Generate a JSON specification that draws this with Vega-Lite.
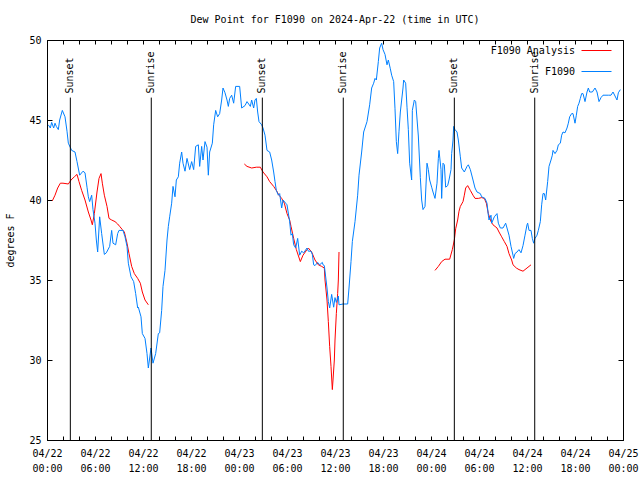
{
  "$schema": "https://vega.github.io/schema/vega-lite/v6.json",
  "width": 576,
  "height": 400,
  "autosize": "none",
  "padding": {"left": 47, "top": 40, "right": 17, "bottom": 40},
  "title": {"text": "Dew Point for F1090 on 2024-Apr-22 (time in UTC)", "offset": 10},
  "config": {
    "font": "DejaVu Sans Mono",
    "view": {"stroke": "black", "strokeWidth": 1},
    "title": {"font": "DejaVu Sans Mono", "fontSize": 10, "fontWeight": "normal", "color": "black"},
    "axis": {"labelFont": "DejaVu Sans Mono", "labelFontSize": 10, "labelColor": "black", "titleFont": "DejaVu Sans Mono", "titleFontSize": 10, "titleFontWeight": "normal", "titleColor": "black", "domainColor": "black", "tickColor": "black", "grid": false},
    "legend": {"labelFont": "DejaVu Sans Mono", "labelFontSize": 10, "labelColor": "black"}
  },
  "datasets": {
    "events": [
      {"t": "2024-04-22T02:55:00Z", "event": "Sunset"},
      {"t": "2024-04-22T13:02:00Z", "event": "Sunrise"},
      {"t": "2024-04-23T02:55:00Z", "event": "Sunset"},
      {"t": "2024-04-23T13:02:00Z", "event": "Sunrise"},
      {"t": "2024-04-24T02:55:00Z", "event": "Sunset"},
      {"t": "2024-04-24T12:58:00Z", "event": "Sunrise"}
    ],
    "obs": [
      {"t": "2024-04-22T00:40:00Z", "v": 39.95, "series": "F1090 Analysis", "seg": "a"},
      {"t": "2024-04-22T01:00:00Z", "v": 40.3, "series": "F1090 Analysis", "seg": "a"},
      {"t": "2024-04-22T01:20:00Z", "v": 40.75, "series": "F1090 Analysis", "seg": "a"},
      {"t": "2024-04-22T01:40:00Z", "v": 41.05, "series": "F1090 Analysis", "seg": "a"},
      {"t": "2024-04-22T02:00:00Z", "v": 41.05, "series": "F1090 Analysis", "seg": "a"},
      {"t": "2024-04-22T02:40:00Z", "v": 41.0, "series": "F1090 Analysis", "seg": "a"},
      {"t": "2024-04-22T03:00:00Z", "v": 41.25, "series": "F1090 Analysis", "seg": "a"},
      {"t": "2024-04-22T03:25:00Z", "v": 41.45, "series": "F1090 Analysis", "seg": "a"},
      {"t": "2024-04-22T03:45:00Z", "v": 41.6, "series": "F1090 Analysis", "seg": "a"},
      {"t": "2024-04-22T04:00:00Z", "v": 41.15, "series": "F1090 Analysis", "seg": "a"},
      {"t": "2024-04-22T04:20:00Z", "v": 40.6, "series": "F1090 Analysis", "seg": "a"},
      {"t": "2024-04-22T04:45:00Z", "v": 40.0, "series": "F1090 Analysis", "seg": "a"},
      {"t": "2024-04-22T05:10:00Z", "v": 39.25, "series": "F1090 Analysis", "seg": "a"},
      {"t": "2024-04-22T05:30:00Z", "v": 38.75, "series": "F1090 Analysis", "seg": "a"},
      {"t": "2024-04-22T05:40:00Z", "v": 38.45, "series": "F1090 Analysis", "seg": "a"},
      {"t": "2024-04-22T05:55:00Z", "v": 39.15, "series": "F1090 Analysis", "seg": "a"},
      {"t": "2024-04-22T06:15:00Z", "v": 40.5, "series": "F1090 Analysis", "seg": "a"},
      {"t": "2024-04-22T06:30:00Z", "v": 41.35, "series": "F1090 Analysis", "seg": "a"},
      {"t": "2024-04-22T06:45:00Z", "v": 41.65, "series": "F1090 Analysis", "seg": "a"},
      {"t": "2024-04-22T06:55:00Z", "v": 41.05, "series": "F1090 Analysis", "seg": "a"},
      {"t": "2024-04-22T07:10:00Z", "v": 40.3, "series": "F1090 Analysis", "seg": "a"},
      {"t": "2024-04-22T07:30:00Z", "v": 39.6, "series": "F1090 Analysis", "seg": "a"},
      {"t": "2024-04-22T07:45:00Z", "v": 38.85, "series": "F1090 Analysis", "seg": "a"},
      {"t": "2024-04-22T08:05:00Z", "v": 38.75, "series": "F1090 Analysis", "seg": "a"},
      {"t": "2024-04-22T08:30:00Z", "v": 38.65, "series": "F1090 Analysis", "seg": "a"},
      {"t": "2024-04-22T08:50:00Z", "v": 38.5, "series": "F1090 Analysis", "seg": "a"},
      {"t": "2024-04-22T09:05:00Z", "v": 38.35, "series": "F1090 Analysis", "seg": "a"},
      {"t": "2024-04-22T09:25:00Z", "v": 38.15, "series": "F1090 Analysis", "seg": "a"},
      {"t": "2024-04-22T09:40:00Z", "v": 38.0, "series": "F1090 Analysis", "seg": "a"},
      {"t": "2024-04-22T10:00:00Z", "v": 37.3, "series": "F1090 Analysis", "seg": "a"},
      {"t": "2024-04-22T10:15:00Z", "v": 36.65, "series": "F1090 Analysis", "seg": "a"},
      {"t": "2024-04-22T10:35:00Z", "v": 35.85, "series": "F1090 Analysis", "seg": "a"},
      {"t": "2024-04-22T10:55:00Z", "v": 35.4, "series": "F1090 Analysis", "seg": "a"},
      {"t": "2024-04-22T11:20:00Z", "v": 35.1, "series": "F1090 Analysis", "seg": "a"},
      {"t": "2024-04-22T11:40:00Z", "v": 34.8, "series": "F1090 Analysis", "seg": "a"},
      {"t": "2024-04-22T11:55:00Z", "v": 34.25, "series": "F1090 Analysis", "seg": "a"},
      {"t": "2024-04-22T12:15:00Z", "v": 33.75, "series": "F1090 Analysis", "seg": "a"},
      {"t": "2024-04-22T12:40:00Z", "v": 33.45, "series": "F1090 Analysis", "seg": "a"},
      {"t": "2024-04-23T00:40:00Z", "v": 42.25, "series": "F1090 Analysis", "seg": "b"},
      {"t": "2024-04-23T01:00:00Z", "v": 42.1, "series": "F1090 Analysis", "seg": "b"},
      {"t": "2024-04-23T01:35:00Z", "v": 42.0, "series": "F1090 Analysis", "seg": "b"},
      {"t": "2024-04-23T02:10:00Z", "v": 42.05, "series": "F1090 Analysis", "seg": "b"},
      {"t": "2024-04-23T02:40:00Z", "v": 42.05, "series": "F1090 Analysis", "seg": "b"},
      {"t": "2024-04-23T03:00:00Z", "v": 41.75, "series": "F1090 Analysis", "seg": "b"},
      {"t": "2024-04-23T03:30:00Z", "v": 41.45, "series": "F1090 Analysis", "seg": "b"},
      {"t": "2024-04-23T03:50:00Z", "v": 41.15, "series": "F1090 Analysis", "seg": "b"},
      {"t": "2024-04-23T04:20:00Z", "v": 40.85, "series": "F1090 Analysis", "seg": "b"},
      {"t": "2024-04-23T04:40:00Z", "v": 40.6, "series": "F1090 Analysis", "seg": "b"},
      {"t": "2024-04-23T05:00:00Z", "v": 40.3, "series": "F1090 Analysis", "seg": "b"},
      {"t": "2024-04-23T05:20:00Z", "v": 40.1, "series": "F1090 Analysis", "seg": "b"},
      {"t": "2024-04-23T05:40:00Z", "v": 39.8, "series": "F1090 Analysis", "seg": "b"},
      {"t": "2024-04-23T06:00:00Z", "v": 39.15, "series": "F1090 Analysis", "seg": "b"},
      {"t": "2024-04-23T06:20:00Z", "v": 38.75, "series": "F1090 Analysis", "seg": "b"},
      {"t": "2024-04-23T06:30:00Z", "v": 38.35, "series": "F1090 Analysis", "seg": "b"},
      {"t": "2024-04-23T06:50:00Z", "v": 37.6, "series": "F1090 Analysis", "seg": "b"},
      {"t": "2024-04-23T07:10:00Z", "v": 36.9, "series": "F1090 Analysis", "seg": "b"},
      {"t": "2024-04-23T07:40:00Z", "v": 36.15, "series": "F1090 Analysis", "seg": "b"},
      {"t": "2024-04-23T08:00:00Z", "v": 36.55, "series": "F1090 Analysis", "seg": "b"},
      {"t": "2024-04-23T08:30:00Z", "v": 36.9, "series": "F1090 Analysis", "seg": "b"},
      {"t": "2024-04-23T08:40:00Z", "v": 37.0, "series": "F1090 Analysis", "seg": "b"},
      {"t": "2024-04-23T09:05:00Z", "v": 36.75, "series": "F1090 Analysis", "seg": "b"},
      {"t": "2024-04-23T09:30:00Z", "v": 36.25, "series": "F1090 Analysis", "seg": "b"},
      {"t": "2024-04-23T09:55:00Z", "v": 35.95, "series": "F1090 Analysis", "seg": "b"},
      {"t": "2024-04-23T10:20:00Z", "v": 35.85, "series": "F1090 Analysis", "seg": "b"},
      {"t": "2024-04-23T10:40:00Z", "v": 35.75, "series": "F1090 Analysis", "seg": "b"},
      {"t": "2024-04-23T10:45:00Z", "v": 35.0, "series": "F1090 Analysis", "seg": "b"},
      {"t": "2024-04-23T11:00:00Z", "v": 33.75, "series": "F1090 Analysis", "seg": "b"},
      {"t": "2024-04-23T11:10:00Z", "v": 32.4, "series": "F1090 Analysis", "seg": "b"},
      {"t": "2024-04-23T11:20:00Z", "v": 30.85, "series": "F1090 Analysis", "seg": "b"},
      {"t": "2024-04-23T11:30:00Z", "v": 29.6, "series": "F1090 Analysis", "seg": "b"},
      {"t": "2024-04-23T11:40:00Z", "v": 28.15, "series": "F1090 Analysis", "seg": "b"},
      {"t": "2024-04-23T11:45:00Z", "v": 28.75, "series": "F1090 Analysis", "seg": "b"},
      {"t": "2024-04-23T11:55:00Z", "v": 30.0, "series": "F1090 Analysis", "seg": "b"},
      {"t": "2024-04-23T12:00:00Z", "v": 31.25, "series": "F1090 Analysis", "seg": "b"},
      {"t": "2024-04-23T12:10:00Z", "v": 32.9, "series": "F1090 Analysis", "seg": "b"},
      {"t": "2024-04-23T12:20:00Z", "v": 34.15, "series": "F1090 Analysis", "seg": "b"},
      {"t": "2024-04-23T12:25:00Z", "v": 35.0, "series": "F1090 Analysis", "seg": "b"},
      {"t": "2024-04-23T12:30:00Z", "v": 36.75, "series": "F1090 Analysis", "seg": "b"},
      {"t": "2024-04-24T00:30:00Z", "v": 35.6, "series": "F1090 Analysis", "seg": "c"},
      {"t": "2024-04-24T00:55:00Z", "v": 35.85, "series": "F1090 Analysis", "seg": "c"},
      {"t": "2024-04-24T01:20:00Z", "v": 36.15, "series": "F1090 Analysis", "seg": "c"},
      {"t": "2024-04-24T01:45:00Z", "v": 36.3, "series": "F1090 Analysis", "seg": "c"},
      {"t": "2024-04-24T02:20:00Z", "v": 36.3, "series": "F1090 Analysis", "seg": "c"},
      {"t": "2024-04-24T02:40:00Z", "v": 36.9, "series": "F1090 Analysis", "seg": "c"},
      {"t": "2024-04-24T02:55:00Z", "v": 37.5, "series": "F1090 Analysis", "seg": "c"},
      {"t": "2024-04-24T03:05:00Z", "v": 38.2, "series": "F1090 Analysis", "seg": "c"},
      {"t": "2024-04-24T03:20:00Z", "v": 38.75, "series": "F1090 Analysis", "seg": "c"},
      {"t": "2024-04-24T03:30:00Z", "v": 39.3, "series": "F1090 Analysis", "seg": "c"},
      {"t": "2024-04-24T03:40:00Z", "v": 39.6, "series": "F1090 Analysis", "seg": "c"},
      {"t": "2024-04-24T04:00:00Z", "v": 39.9, "series": "F1090 Analysis", "seg": "c"},
      {"t": "2024-04-24T04:10:00Z", "v": 40.3, "series": "F1090 Analysis", "seg": "c"},
      {"t": "2024-04-24T04:20:00Z", "v": 40.75, "series": "F1090 Analysis", "seg": "c"},
      {"t": "2024-04-24T04:35:00Z", "v": 40.9, "series": "F1090 Analysis", "seg": "c"},
      {"t": "2024-04-24T04:55:00Z", "v": 40.6, "series": "F1090 Analysis", "seg": "c"},
      {"t": "2024-04-24T05:15:00Z", "v": 40.3, "series": "F1090 Analysis", "seg": "c"},
      {"t": "2024-04-24T05:30:00Z", "v": 40.1, "series": "F1090 Analysis", "seg": "c"},
      {"t": "2024-04-24T05:55:00Z", "v": 40.1, "series": "F1090 Analysis", "seg": "c"},
      {"t": "2024-04-24T06:20:00Z", "v": 40.15, "series": "F1090 Analysis", "seg": "c"},
      {"t": "2024-04-24T06:40:00Z", "v": 40.1, "series": "F1090 Analysis", "seg": "c"},
      {"t": "2024-04-24T06:55:00Z", "v": 39.8, "series": "F1090 Analysis", "seg": "c"},
      {"t": "2024-04-24T07:10:00Z", "v": 39.15, "series": "F1090 Analysis", "seg": "c"},
      {"t": "2024-04-24T07:30:00Z", "v": 38.65, "series": "F1090 Analysis", "seg": "c"},
      {"t": "2024-04-24T07:45:00Z", "v": 38.45, "series": "F1090 Analysis", "seg": "c"},
      {"t": "2024-04-24T08:15:00Z", "v": 38.25, "series": "F1090 Analysis", "seg": "c"},
      {"t": "2024-04-24T08:30:00Z", "v": 38.0, "series": "F1090 Analysis", "seg": "c"},
      {"t": "2024-04-24T08:50:00Z", "v": 37.7, "series": "F1090 Analysis", "seg": "c"},
      {"t": "2024-04-24T09:10:00Z", "v": 37.4, "series": "F1090 Analysis", "seg": "c"},
      {"t": "2024-04-24T09:30:00Z", "v": 37.1, "series": "F1090 Analysis", "seg": "c"},
      {"t": "2024-04-24T09:45:00Z", "v": 36.65, "series": "F1090 Analysis", "seg": "c"},
      {"t": "2024-04-24T10:05:00Z", "v": 36.25, "series": "F1090 Analysis", "seg": "c"},
      {"t": "2024-04-24T10:15:00Z", "v": 35.95, "series": "F1090 Analysis", "seg": "c"},
      {"t": "2024-04-24T10:40:00Z", "v": 35.75, "series": "F1090 Analysis", "seg": "c"},
      {"t": "2024-04-24T11:00:00Z", "v": 35.65, "series": "F1090 Analysis", "seg": "c"},
      {"t": "2024-04-24T11:30:00Z", "v": 35.55, "series": "F1090 Analysis", "seg": "c"},
      {"t": "2024-04-24T12:00:00Z", "v": 35.75, "series": "F1090 Analysis", "seg": "c"},
      {"t": "2024-04-24T12:30:00Z", "v": 35.95, "series": "F1090 Analysis", "seg": "c"},
      {"t": "2024-04-22T00:10:00Z", "v": 44.7, "series": "F1090", "seg": "d"},
      {"t": "2024-04-22T00:25:00Z", "v": 44.5, "series": "F1090", "seg": "d"},
      {"t": "2024-04-22T00:35:00Z", "v": 44.85, "series": "F1090", "seg": "d"},
      {"t": "2024-04-22T00:50:00Z", "v": 44.5, "series": "F1090", "seg": "d"},
      {"t": "2024-04-22T01:00:00Z", "v": 44.8, "series": "F1090", "seg": "d"},
      {"t": "2024-04-22T01:10:00Z", "v": 44.6, "series": "F1090", "seg": "d"},
      {"t": "2024-04-22T01:25:00Z", "v": 44.4, "series": "F1090", "seg": "d"},
      {"t": "2024-04-22T01:35:00Z", "v": 45.0, "series": "F1090", "seg": "d"},
      {"t": "2024-04-22T01:55:00Z", "v": 45.6, "series": "F1090", "seg": "d"},
      {"t": "2024-04-22T02:15:00Z", "v": 45.2, "series": "F1090", "seg": "d"},
      {"t": "2024-04-22T02:30:00Z", "v": 44.3, "series": "F1090", "seg": "d"},
      {"t": "2024-04-22T02:40:00Z", "v": 43.55, "series": "F1090", "seg": "d"},
      {"t": "2024-04-22T03:05:00Z", "v": 43.1, "series": "F1090", "seg": "d"},
      {"t": "2024-04-22T03:30:00Z", "v": 43.0, "series": "F1090", "seg": "d"},
      {"t": "2024-04-22T03:45:00Z", "v": 42.4, "series": "F1090", "seg": "d"},
      {"t": "2024-04-22T04:05:00Z", "v": 41.55, "series": "F1090", "seg": "d"},
      {"t": "2024-04-22T04:30:00Z", "v": 41.8, "series": "F1090", "seg": "d"},
      {"t": "2024-04-22T04:45:00Z", "v": 41.7, "series": "F1090", "seg": "d"},
      {"t": "2024-04-22T05:00:00Z", "v": 40.8, "series": "F1090", "seg": "d"},
      {"t": "2024-04-22T05:10:00Z", "v": 40.2, "series": "F1090", "seg": "d"},
      {"t": "2024-04-22T05:20:00Z", "v": 39.9, "series": "F1090", "seg": "d"},
      {"t": "2024-04-22T05:35:00Z", "v": 40.3, "series": "F1090", "seg": "d"},
      {"t": "2024-04-22T05:45:00Z", "v": 39.4, "series": "F1090", "seg": "d"},
      {"t": "2024-04-22T06:00:00Z", "v": 38.55, "series": "F1090", "seg": "d"},
      {"t": "2024-04-22T06:10:00Z", "v": 37.5, "series": "F1090", "seg": "d"},
      {"t": "2024-04-22T06:20:00Z", "v": 36.75, "series": "F1090", "seg": "d"},
      {"t": "2024-04-22T06:35:00Z", "v": 38.95, "series": "F1090", "seg": "d"},
      {"t": "2024-04-22T06:50:00Z", "v": 37.9, "series": "F1090", "seg": "d"},
      {"t": "2024-04-22T07:10:00Z", "v": 36.6, "series": "F1090", "seg": "d"},
      {"t": "2024-04-22T07:25:00Z", "v": 36.7, "series": "F1090", "seg": "d"},
      {"t": "2024-04-22T07:50:00Z", "v": 37.1, "series": "F1090", "seg": "d"},
      {"t": "2024-04-22T08:05:00Z", "v": 38.1, "series": "F1090", "seg": "d"},
      {"t": "2024-04-22T08:15:00Z", "v": 37.3, "series": "F1090", "seg": "d"},
      {"t": "2024-04-22T08:35:00Z", "v": 37.2, "series": "F1090", "seg": "d"},
      {"t": "2024-04-22T08:50:00Z", "v": 37.9, "series": "F1090", "seg": "d"},
      {"t": "2024-04-22T09:00:00Z", "v": 38.1, "series": "F1090", "seg": "d"},
      {"t": "2024-04-22T09:30:00Z", "v": 38.1, "series": "F1090", "seg": "d"},
      {"t": "2024-04-22T09:45:00Z", "v": 37.7, "series": "F1090", "seg": "d"},
      {"t": "2024-04-22T10:00:00Z", "v": 37.1, "series": "F1090", "seg": "d"},
      {"t": "2024-04-22T10:10:00Z", "v": 36.05, "series": "F1090", "seg": "d"},
      {"t": "2024-04-22T10:30:00Z", "v": 35.2, "series": "F1090", "seg": "d"},
      {"t": "2024-04-22T10:50:00Z", "v": 34.9, "series": "F1090", "seg": "d"},
      {"t": "2024-04-22T11:05:00Z", "v": 34.15, "series": "F1090", "seg": "d"},
      {"t": "2024-04-22T11:20:00Z", "v": 33.25, "series": "F1090", "seg": "d"},
      {"t": "2024-04-22T11:25:00Z", "v": 33.3, "series": "F1090", "seg": "d"},
      {"t": "2024-04-22T11:45:00Z", "v": 32.7, "series": "F1090", "seg": "d"},
      {"t": "2024-04-22T11:55:00Z", "v": 31.65, "series": "F1090", "seg": "d"},
      {"t": "2024-04-22T12:15:00Z", "v": 31.35, "series": "F1090", "seg": "d"},
      {"t": "2024-04-22T12:30:00Z", "v": 30.4, "series": "F1090", "seg": "d"},
      {"t": "2024-04-22T12:40:00Z", "v": 29.5, "series": "F1090", "seg": "d"},
      {"t": "2024-04-22T13:00:00Z", "v": 30.75, "series": "F1090", "seg": "d"},
      {"t": "2024-04-22T13:15:00Z", "v": 29.8, "series": "F1090", "seg": "d"},
      {"t": "2024-04-22T13:35:00Z", "v": 30.4, "series": "F1090", "seg": "d"},
      {"t": "2024-04-22T13:55:00Z", "v": 31.65, "series": "F1090", "seg": "d"},
      {"t": "2024-04-22T14:05:00Z", "v": 31.7, "series": "F1090", "seg": "d"},
      {"t": "2024-04-22T14:20:00Z", "v": 33.1, "series": "F1090", "seg": "d"},
      {"t": "2024-04-22T14:30:00Z", "v": 34.6, "series": "F1090", "seg": "d"},
      {"t": "2024-04-22T14:45:00Z", "v": 35.6, "series": "F1090", "seg": "d"},
      {"t": "2024-04-22T15:00:00Z", "v": 37.5, "series": "F1090", "seg": "d"},
      {"t": "2024-04-22T15:10:00Z", "v": 38.35, "series": "F1090", "seg": "d"},
      {"t": "2024-04-22T15:20:00Z", "v": 38.95, "series": "F1090", "seg": "d"},
      {"t": "2024-04-22T15:35:00Z", "v": 39.8, "series": "F1090", "seg": "d"},
      {"t": "2024-04-22T15:45:00Z", "v": 40.85, "series": "F1090", "seg": "d"},
      {"t": "2024-04-22T16:00:00Z", "v": 40.2, "series": "F1090", "seg": "d"},
      {"t": "2024-04-22T16:10:00Z", "v": 41.25, "series": "F1090", "seg": "d"},
      {"t": "2024-04-22T16:25:00Z", "v": 41.45, "series": "F1090", "seg": "d"},
      {"t": "2024-04-22T16:35:00Z", "v": 42.3, "series": "F1090", "seg": "d"},
      {"t": "2024-04-22T16:50:00Z", "v": 43.0, "series": "F1090", "seg": "d"},
      {"t": "2024-04-22T17:00:00Z", "v": 42.3, "series": "F1090", "seg": "d"},
      {"t": "2024-04-22T17:15:00Z", "v": 41.8, "series": "F1090", "seg": "d"},
      {"t": "2024-04-22T17:30:00Z", "v": 42.6, "series": "F1090", "seg": "d"},
      {"t": "2024-04-22T17:50:00Z", "v": 41.9, "series": "F1090", "seg": "d"},
      {"t": "2024-04-22T18:05:00Z", "v": 42.4, "series": "F1090", "seg": "d"},
      {"t": "2024-04-22T18:20:00Z", "v": 41.9, "series": "F1090", "seg": "d"},
      {"t": "2024-04-22T18:35:00Z", "v": 43.35, "series": "F1090", "seg": "d"},
      {"t": "2024-04-22T18:55:00Z", "v": 43.45, "series": "F1090", "seg": "d"},
      {"t": "2024-04-22T19:05:00Z", "v": 42.1, "series": "F1090", "seg": "d"},
      {"t": "2024-04-22T19:20:00Z", "v": 43.35, "series": "F1090", "seg": "d"},
      {"t": "2024-04-22T19:30:00Z", "v": 42.5, "series": "F1090", "seg": "d"},
      {"t": "2024-04-22T19:45:00Z", "v": 43.65, "series": "F1090", "seg": "d"},
      {"t": "2024-04-22T20:00:00Z", "v": 43.3, "series": "F1090", "seg": "d"},
      {"t": "2024-04-22T20:10:00Z", "v": 41.55, "series": "F1090", "seg": "d"},
      {"t": "2024-04-22T20:20:00Z", "v": 43.0, "series": "F1090", "seg": "d"},
      {"t": "2024-04-22T20:40:00Z", "v": 43.55, "series": "F1090", "seg": "d"},
      {"t": "2024-04-22T20:50:00Z", "v": 44.7, "series": "F1090", "seg": "d"},
      {"t": "2024-04-22T21:05:00Z", "v": 45.6, "series": "F1090", "seg": "d"},
      {"t": "2024-04-22T21:20:00Z", "v": 45.2, "series": "F1090", "seg": "d"},
      {"t": "2024-04-22T21:35:00Z", "v": 45.4, "series": "F1090", "seg": "d"},
      {"t": "2024-04-22T21:50:00Z", "v": 46.25, "series": "F1090", "seg": "d"},
      {"t": "2024-04-22T22:00:00Z", "v": 47.0, "series": "F1090", "seg": "d"},
      {"t": "2024-04-22T22:15:00Z", "v": 46.7, "series": "F1090", "seg": "d"},
      {"t": "2024-04-22T22:30:00Z", "v": 46.25, "series": "F1090", "seg": "d"},
      {"t": "2024-04-22T22:40:00Z", "v": 45.85, "series": "F1090", "seg": "d"},
      {"t": "2024-04-22T22:50:00Z", "v": 46.35, "series": "F1090", "seg": "d"},
      {"t": "2024-04-22T23:05:00Z", "v": 46.55, "series": "F1090", "seg": "d"},
      {"t": "2024-04-22T23:20:00Z", "v": 46.05, "series": "F1090", "seg": "d"},
      {"t": "2024-04-22T23:35:00Z", "v": 47.1, "series": "F1090", "seg": "d"},
      {"t": "2024-04-23T00:05:00Z", "v": 47.1, "series": "F1090", "seg": "d"},
      {"t": "2024-04-23T00:20:00Z", "v": 45.75, "series": "F1090", "seg": "d"},
      {"t": "2024-04-23T00:45:00Z", "v": 45.9, "series": "F1090", "seg": "d"},
      {"t": "2024-04-23T01:00:00Z", "v": 46.15, "series": "F1090", "seg": "d"},
      {"t": "2024-04-23T01:25:00Z", "v": 45.85, "series": "F1090", "seg": "d"},
      {"t": "2024-04-23T01:35:00Z", "v": 46.25, "series": "F1090", "seg": "d"},
      {"t": "2024-04-23T01:50:00Z", "v": 45.75, "series": "F1090", "seg": "d"},
      {"t": "2024-04-23T02:00:00Z", "v": 46.25, "series": "F1090", "seg": "d"},
      {"t": "2024-04-23T02:10:00Z", "v": 46.35, "series": "F1090", "seg": "d"},
      {"t": "2024-04-23T02:20:00Z", "v": 45.5, "series": "F1090", "seg": "d"},
      {"t": "2024-04-23T02:30:00Z", "v": 44.9, "series": "F1090", "seg": "d"},
      {"t": "2024-04-23T02:50:00Z", "v": 44.7, "series": "F1090", "seg": "d"},
      {"t": "2024-04-23T03:00:00Z", "v": 44.5, "series": "F1090", "seg": "d"},
      {"t": "2024-04-23T03:15:00Z", "v": 44.05, "series": "F1090", "seg": "d"},
      {"t": "2024-04-23T03:30:00Z", "v": 43.1, "series": "F1090", "seg": "d"},
      {"t": "2024-04-23T03:50:00Z", "v": 43.0, "series": "F1090", "seg": "d"},
      {"t": "2024-04-23T04:05:00Z", "v": 42.5, "series": "F1090", "seg": "d"},
      {"t": "2024-04-23T04:20:00Z", "v": 41.75, "series": "F1090", "seg": "d"},
      {"t": "2024-04-23T04:30:00Z", "v": 41.15, "series": "F1090", "seg": "d"},
      {"t": "2024-04-23T04:40:00Z", "v": 40.6, "series": "F1090", "seg": "d"},
      {"t": "2024-04-23T04:55:00Z", "v": 40.3, "series": "F1090", "seg": "d"},
      {"t": "2024-04-23T05:05:00Z", "v": 40.4, "series": "F1090", "seg": "d"},
      {"t": "2024-04-23T05:20:00Z", "v": 39.5, "series": "F1090", "seg": "d"},
      {"t": "2024-04-23T05:30:00Z", "v": 40.0, "series": "F1090", "seg": "d"},
      {"t": "2024-04-23T05:50:00Z", "v": 39.8, "series": "F1090", "seg": "d"},
      {"t": "2024-04-23T06:00:00Z", "v": 39.7, "series": "F1090", "seg": "d"},
      {"t": "2024-04-23T06:20:00Z", "v": 38.65, "series": "F1090", "seg": "d"},
      {"t": "2024-04-23T06:30:00Z", "v": 37.8, "series": "F1090", "seg": "d"},
      {"t": "2024-04-23T06:40:00Z", "v": 37.9, "series": "F1090", "seg": "d"},
      {"t": "2024-04-23T06:50:00Z", "v": 37.2, "series": "F1090", "seg": "d"},
      {"t": "2024-04-23T07:05:00Z", "v": 37.0, "series": "F1090", "seg": "d"},
      {"t": "2024-04-23T07:20:00Z", "v": 37.6, "series": "F1090", "seg": "d"},
      {"t": "2024-04-23T07:35:00Z", "v": 36.55, "series": "F1090", "seg": "d"},
      {"t": "2024-04-23T07:50:00Z", "v": 36.8, "series": "F1090", "seg": "d"},
      {"t": "2024-04-23T08:05:00Z", "v": 36.7, "series": "F1090", "seg": "d"},
      {"t": "2024-04-23T08:30:00Z", "v": 37.0, "series": "F1090", "seg": "d"},
      {"t": "2024-04-23T08:40:00Z", "v": 36.8, "series": "F1090", "seg": "d"},
      {"t": "2024-04-23T09:00:00Z", "v": 36.8, "series": "F1090", "seg": "d"},
      {"t": "2024-04-23T09:10:00Z", "v": 36.6, "series": "F1090", "seg": "d"},
      {"t": "2024-04-23T09:20:00Z", "v": 35.95, "series": "F1090", "seg": "d"},
      {"t": "2024-04-23T09:30:00Z", "v": 35.9, "series": "F1090", "seg": "d"},
      {"t": "2024-04-23T09:50:00Z", "v": 36.1, "series": "F1090", "seg": "d"},
      {"t": "2024-04-23T10:05:00Z", "v": 35.95, "series": "F1090", "seg": "d"},
      {"t": "2024-04-23T10:25:00Z", "v": 36.1, "series": "F1090", "seg": "d"},
      {"t": "2024-04-23T10:30:00Z", "v": 35.95, "series": "F1090", "seg": "d"},
      {"t": "2024-04-23T10:40:00Z", "v": 35.9, "series": "F1090", "seg": "d"},
      {"t": "2024-04-23T11:00:00Z", "v": 34.5, "series": "F1090", "seg": "d"},
      {"t": "2024-04-23T11:10:00Z", "v": 33.65, "series": "F1090", "seg": "d"},
      {"t": "2024-04-23T11:20:00Z", "v": 33.25, "series": "F1090", "seg": "d"},
      {"t": "2024-04-23T11:35:00Z", "v": 34.1, "series": "F1090", "seg": "d"},
      {"t": "2024-04-23T11:50:00Z", "v": 33.3, "series": "F1090", "seg": "d"},
      {"t": "2024-04-23T12:00:00Z", "v": 33.9, "series": "F1090", "seg": "d"},
      {"t": "2024-04-23T12:10:00Z", "v": 33.6, "series": "F1090", "seg": "d"},
      {"t": "2024-04-23T12:25:00Z", "v": 34.0, "series": "F1090", "seg": "d"},
      {"t": "2024-04-23T12:30:00Z", "v": 33.45, "series": "F1090", "seg": "d"},
      {"t": "2024-04-23T13:00:00Z", "v": 33.5, "series": "F1090", "seg": "d"},
      {"t": "2024-04-23T13:35:00Z", "v": 33.5, "series": "F1090", "seg": "d"},
      {"t": "2024-04-23T13:45:00Z", "v": 34.5, "series": "F1090", "seg": "d"},
      {"t": "2024-04-23T14:00:00Z", "v": 36.15, "series": "F1090", "seg": "d"},
      {"t": "2024-04-23T14:10:00Z", "v": 37.4, "series": "F1090", "seg": "d"},
      {"t": "2024-04-23T14:30:00Z", "v": 38.65, "series": "F1090", "seg": "d"},
      {"t": "2024-04-23T14:50:00Z", "v": 40.3, "series": "F1090", "seg": "d"},
      {"t": "2024-04-23T15:00:00Z", "v": 41.55, "series": "F1090", "seg": "d"},
      {"t": "2024-04-23T15:20:00Z", "v": 43.0, "series": "F1090", "seg": "d"},
      {"t": "2024-04-23T15:35:00Z", "v": 44.25, "series": "F1090", "seg": "d"},
      {"t": "2024-04-23T16:00:00Z", "v": 44.9, "series": "F1090", "seg": "d"},
      {"t": "2024-04-23T16:20:00Z", "v": 45.95, "series": "F1090", "seg": "d"},
      {"t": "2024-04-23T16:35:00Z", "v": 47.0, "series": "F1090", "seg": "d"},
      {"t": "2024-04-23T16:50:00Z", "v": 47.3, "series": "F1090", "seg": "d"},
      {"t": "2024-04-23T17:00:00Z", "v": 47.6, "series": "F1090", "seg": "d"},
      {"t": "2024-04-23T17:10:00Z", "v": 47.5, "series": "F1090", "seg": "d"},
      {"t": "2024-04-23T17:25:00Z", "v": 48.65, "series": "F1090", "seg": "d"},
      {"t": "2024-04-23T17:35:00Z", "v": 49.5, "series": "F1090", "seg": "d"},
      {"t": "2024-04-23T17:50:00Z", "v": 49.8, "series": "F1090", "seg": "d"},
      {"t": "2024-04-23T18:00:00Z", "v": 49.4, "series": "F1090", "seg": "d"},
      {"t": "2024-04-23T18:15:00Z", "v": 49.1, "series": "F1090", "seg": "d"},
      {"t": "2024-04-23T18:30:00Z", "v": 48.45, "series": "F1090", "seg": "d"},
      {"t": "2024-04-23T18:40:00Z", "v": 48.75, "series": "F1090", "seg": "d"},
      {"t": "2024-04-23T18:55:00Z", "v": 48.2, "series": "F1090", "seg": "d"},
      {"t": "2024-04-23T19:05:00Z", "v": 47.8, "series": "F1090", "seg": "d"},
      {"t": "2024-04-23T19:20:00Z", "v": 47.4, "series": "F1090", "seg": "d"},
      {"t": "2024-04-23T19:30:00Z", "v": 45.7, "series": "F1090", "seg": "d"},
      {"t": "2024-04-23T19:40:00Z", "v": 43.65, "series": "F1090", "seg": "d"},
      {"t": "2024-04-23T19:50:00Z", "v": 42.9, "series": "F1090", "seg": "d"},
      {"t": "2024-04-23T20:00:00Z", "v": 44.3, "series": "F1090", "seg": "d"},
      {"t": "2024-04-23T20:10:00Z", "v": 45.5, "series": "F1090", "seg": "d"},
      {"t": "2024-04-23T20:30:00Z", "v": 47.0, "series": "F1090", "seg": "d"},
      {"t": "2024-04-23T20:35:00Z", "v": 47.5, "series": "F1090", "seg": "d"},
      {"t": "2024-04-23T20:50:00Z", "v": 47.3, "series": "F1090", "seg": "d"},
      {"t": "2024-04-23T21:00:00Z", "v": 45.8, "series": "F1090", "seg": "d"},
      {"t": "2024-04-23T21:10:00Z", "v": 44.4, "series": "F1090", "seg": "d"},
      {"t": "2024-04-23T21:20:00Z", "v": 42.3, "series": "F1090", "seg": "d"},
      {"t": "2024-04-23T21:35:00Z", "v": 41.25, "series": "F1090", "seg": "d"},
      {"t": "2024-04-23T21:40:00Z", "v": 45.6, "series": "F1090", "seg": "d"},
      {"t": "2024-04-23T21:55:00Z", "v": 46.25, "series": "F1090", "seg": "d"},
      {"t": "2024-04-23T22:05:00Z", "v": 46.15, "series": "F1090", "seg": "d"},
      {"t": "2024-04-23T22:25:00Z", "v": 44.0, "series": "F1090", "seg": "d"},
      {"t": "2024-04-23T22:40:00Z", "v": 41.4, "series": "F1090", "seg": "d"},
      {"t": "2024-04-23T22:50:00Z", "v": 40.0, "series": "F1090", "seg": "d"},
      {"t": "2024-04-23T23:00:00Z", "v": 39.4, "series": "F1090", "seg": "d"},
      {"t": "2024-04-23T23:15:00Z", "v": 39.6, "series": "F1090", "seg": "d"},
      {"t": "2024-04-23T23:30:00Z", "v": 42.3, "series": "F1090", "seg": "d"},
      {"t": "2024-04-23T23:40:00Z", "v": 41.9, "series": "F1090", "seg": "d"},
      {"t": "2024-04-23T23:50:00Z", "v": 41.25, "series": "F1090", "seg": "d"},
      {"t": "2024-04-24T00:05:00Z", "v": 40.8, "series": "F1090", "seg": "d"},
      {"t": "2024-04-24T00:15:00Z", "v": 40.5, "series": "F1090", "seg": "d"},
      {"t": "2024-04-24T00:30:00Z", "v": 40.1, "series": "F1090", "seg": "d"},
      {"t": "2024-04-24T00:45:00Z", "v": 41.05, "series": "F1090", "seg": "d"},
      {"t": "2024-04-24T00:55:00Z", "v": 42.6, "series": "F1090", "seg": "d"},
      {"t": "2024-04-24T01:00:00Z", "v": 43.1, "series": "F1090", "seg": "d"},
      {"t": "2024-04-24T01:15:00Z", "v": 41.9, "series": "F1090", "seg": "d"},
      {"t": "2024-04-24T01:20:00Z", "v": 40.1, "series": "F1090", "seg": "d"},
      {"t": "2024-04-24T01:30:00Z", "v": 42.3, "series": "F1090", "seg": "d"},
      {"t": "2024-04-24T01:40:00Z", "v": 42.2, "series": "F1090", "seg": "d"},
      {"t": "2024-04-24T01:50:00Z", "v": 40.8, "series": "F1090", "seg": "d"},
      {"t": "2024-04-24T02:05:00Z", "v": 40.9, "series": "F1090", "seg": "d"},
      {"t": "2024-04-24T02:15:00Z", "v": 41.25, "series": "F1090", "seg": "d"},
      {"t": "2024-04-24T02:30:00Z", "v": 41.9, "series": "F1090", "seg": "d"},
      {"t": "2024-04-24T02:35:00Z", "v": 42.9, "series": "F1090", "seg": "d"},
      {"t": "2024-04-24T02:45:00Z", "v": 43.75, "series": "F1090", "seg": "d"},
      {"t": "2024-04-24T02:50:00Z", "v": 44.6, "series": "F1090", "seg": "d"},
      {"t": "2024-04-24T03:00:00Z", "v": 44.4, "series": "F1090", "seg": "d"},
      {"t": "2024-04-24T03:15:00Z", "v": 44.25, "series": "F1090", "seg": "d"},
      {"t": "2024-04-24T03:25:00Z", "v": 43.75, "series": "F1090", "seg": "d"},
      {"t": "2024-04-24T03:40:00Z", "v": 42.7, "series": "F1090", "seg": "d"},
      {"t": "2024-04-24T03:50:00Z", "v": 42.0, "series": "F1090", "seg": "d"},
      {"t": "2024-04-24T04:10:00Z", "v": 41.75, "series": "F1090", "seg": "d"},
      {"t": "2024-04-24T04:30:00Z", "v": 42.1, "series": "F1090", "seg": "d"},
      {"t": "2024-04-24T04:40:00Z", "v": 42.2, "series": "F1090", "seg": "d"},
      {"t": "2024-04-24T04:55:00Z", "v": 41.9, "series": "F1090", "seg": "d"},
      {"t": "2024-04-24T05:15:00Z", "v": 41.25, "series": "F1090", "seg": "d"},
      {"t": "2024-04-24T05:30:00Z", "v": 40.75, "series": "F1090", "seg": "d"},
      {"t": "2024-04-24T05:45:00Z", "v": 40.5, "series": "F1090", "seg": "d"},
      {"t": "2024-04-24T06:10:00Z", "v": 40.4, "series": "F1090", "seg": "d"},
      {"t": "2024-04-24T06:20:00Z", "v": 40.2, "series": "F1090", "seg": "d"},
      {"t": "2024-04-24T06:45:00Z", "v": 40.1, "series": "F1090", "seg": "d"},
      {"t": "2024-04-24T07:00:00Z", "v": 39.8, "series": "F1090", "seg": "d"},
      {"t": "2024-04-24T07:10:00Z", "v": 39.05, "series": "F1090", "seg": "d"},
      {"t": "2024-04-24T07:15:00Z", "v": 38.75, "series": "F1090", "seg": "d"},
      {"t": "2024-04-24T07:30:00Z", "v": 39.05, "series": "F1090", "seg": "d"},
      {"t": "2024-04-24T07:35:00Z", "v": 38.55, "series": "F1090", "seg": "d"},
      {"t": "2024-04-24T07:55:00Z", "v": 38.95, "series": "F1090", "seg": "d"},
      {"t": "2024-04-24T08:15:00Z", "v": 39.15, "series": "F1090", "seg": "d"},
      {"t": "2024-04-24T08:25:00Z", "v": 38.55, "series": "F1090", "seg": "d"},
      {"t": "2024-04-24T08:40:00Z", "v": 38.25, "series": "F1090", "seg": "d"},
      {"t": "2024-04-24T09:00:00Z", "v": 38.25, "series": "F1090", "seg": "d"},
      {"t": "2024-04-24T09:20:00Z", "v": 38.55, "series": "F1090", "seg": "d"},
      {"t": "2024-04-24T09:30:00Z", "v": 38.25, "series": "F1090", "seg": "d"},
      {"t": "2024-04-24T09:45:00Z", "v": 37.8, "series": "F1090", "seg": "d"},
      {"t": "2024-04-24T10:00:00Z", "v": 37.1, "series": "F1090", "seg": "d"},
      {"t": "2024-04-24T10:15:00Z", "v": 36.55, "series": "F1090", "seg": "d"},
      {"t": "2024-04-24T10:20:00Z", "v": 36.35, "series": "F1090", "seg": "d"},
      {"t": "2024-04-24T10:30:00Z", "v": 36.65, "series": "F1090", "seg": "d"},
      {"t": "2024-04-24T10:45:00Z", "v": 36.75, "series": "F1090", "seg": "d"},
      {"t": "2024-04-24T11:00:00Z", "v": 36.9, "series": "F1090", "seg": "d"},
      {"t": "2024-04-24T11:15:00Z", "v": 36.7, "series": "F1090", "seg": "d"},
      {"t": "2024-04-24T11:30:00Z", "v": 37.15, "series": "F1090", "seg": "d"},
      {"t": "2024-04-24T11:45:00Z", "v": 37.8, "series": "F1090", "seg": "d"},
      {"t": "2024-04-24T12:00:00Z", "v": 38.45, "series": "F1090", "seg": "d"},
      {"t": "2024-04-24T12:05:00Z", "v": 38.55, "series": "F1090", "seg": "d"},
      {"t": "2024-04-24T12:15:00Z", "v": 38.1, "series": "F1090", "seg": "d"},
      {"t": "2024-04-24T12:30:00Z", "v": 38.1, "series": "F1090", "seg": "d"},
      {"t": "2024-04-24T12:40:00Z", "v": 37.6, "series": "F1090", "seg": "d"},
      {"t": "2024-04-24T12:50:00Z", "v": 37.3, "series": "F1090", "seg": "d"},
      {"t": "2024-04-24T13:00:00Z", "v": 37.6, "series": "F1090", "seg": "d"},
      {"t": "2024-04-24T13:15:00Z", "v": 37.8, "series": "F1090", "seg": "d"},
      {"t": "2024-04-24T13:25:00Z", "v": 38.1, "series": "F1090", "seg": "d"},
      {"t": "2024-04-24T13:40:00Z", "v": 38.65, "series": "F1090", "seg": "d"},
      {"t": "2024-04-24T13:50:00Z", "v": 39.7, "series": "F1090", "seg": "d"},
      {"t": "2024-04-24T14:00:00Z", "v": 40.4, "series": "F1090", "seg": "d"},
      {"t": "2024-04-24T14:10:00Z", "v": 40.4, "series": "F1090", "seg": "d"},
      {"t": "2024-04-24T14:20:00Z", "v": 40.0, "series": "F1090", "seg": "d"},
      {"t": "2024-04-24T14:35:00Z", "v": 41.15, "series": "F1090", "seg": "d"},
      {"t": "2024-04-24T14:45:00Z", "v": 42.1, "series": "F1090", "seg": "d"},
      {"t": "2024-04-24T15:00:00Z", "v": 42.5, "series": "F1090", "seg": "d"},
      {"t": "2024-04-24T15:10:00Z", "v": 42.8, "series": "F1090", "seg": "d"},
      {"t": "2024-04-24T15:15:00Z", "v": 43.1, "series": "F1090", "seg": "d"},
      {"t": "2024-04-24T15:30:00Z", "v": 42.9, "series": "F1090", "seg": "d"},
      {"t": "2024-04-24T15:45:00Z", "v": 43.1, "series": "F1090", "seg": "d"},
      {"t": "2024-04-24T15:55:00Z", "v": 43.45, "series": "F1090", "seg": "d"},
      {"t": "2024-04-24T16:10:00Z", "v": 43.55, "series": "F1090", "seg": "d"},
      {"t": "2024-04-24T16:20:00Z", "v": 44.05, "series": "F1090", "seg": "d"},
      {"t": "2024-04-24T16:30:00Z", "v": 44.25, "series": "F1090", "seg": "d"},
      {"t": "2024-04-24T16:45:00Z", "v": 44.2, "series": "F1090", "seg": "d"},
      {"t": "2024-04-24T17:00:00Z", "v": 44.5, "series": "F1090", "seg": "d"},
      {"t": "2024-04-24T17:10:00Z", "v": 44.8, "series": "F1090", "seg": "d"},
      {"t": "2024-04-24T17:20:00Z", "v": 45.2, "series": "F1090", "seg": "d"},
      {"t": "2024-04-24T17:35:00Z", "v": 45.4, "series": "F1090", "seg": "d"},
      {"t": "2024-04-24T17:45:00Z", "v": 45.4, "series": "F1090", "seg": "d"},
      {"t": "2024-04-24T18:00:00Z", "v": 44.8, "series": "F1090", "seg": "d"},
      {"t": "2024-04-24T18:10:00Z", "v": 45.3, "series": "F1090", "seg": "d"},
      {"t": "2024-04-24T18:20:00Z", "v": 45.85, "series": "F1090", "seg": "d"},
      {"t": "2024-04-24T18:30:00Z", "v": 46.05, "series": "F1090", "seg": "d"},
      {"t": "2024-04-24T18:40:00Z", "v": 46.35, "series": "F1090", "seg": "d"},
      {"t": "2024-04-24T18:50:00Z", "v": 46.65, "series": "F1090", "seg": "d"},
      {"t": "2024-04-24T19:00:00Z", "v": 46.65, "series": "F1090", "seg": "d"},
      {"t": "2024-04-24T19:15:00Z", "v": 46.15, "series": "F1090", "seg": "d"},
      {"t": "2024-04-24T19:30:00Z", "v": 46.75, "series": "F1090", "seg": "d"},
      {"t": "2024-04-24T19:40:00Z", "v": 47.0, "series": "F1090", "seg": "d"},
      {"t": "2024-04-24T19:50:00Z", "v": 46.75, "series": "F1090", "seg": "d"},
      {"t": "2024-04-24T20:10:00Z", "v": 46.75, "series": "F1090", "seg": "d"},
      {"t": "2024-04-24T20:30:00Z", "v": 47.0, "series": "F1090", "seg": "d"},
      {"t": "2024-04-24T20:45:00Z", "v": 46.75, "series": "F1090", "seg": "d"},
      {"t": "2024-04-24T21:00:00Z", "v": 46.15, "series": "F1090", "seg": "d"},
      {"t": "2024-04-24T21:15:00Z", "v": 46.4, "series": "F1090", "seg": "d"},
      {"t": "2024-04-24T21:30:00Z", "v": 46.55, "series": "F1090", "seg": "d"},
      {"t": "2024-04-24T22:10:00Z", "v": 46.55, "series": "F1090", "seg": "d"},
      {"t": "2024-04-24T22:30:00Z", "v": 46.55, "series": "F1090", "seg": "d"},
      {"t": "2024-04-24T22:45:00Z", "v": 46.75, "series": "F1090", "seg": "d"},
      {"t": "2024-04-24T23:00:00Z", "v": 46.5, "series": "F1090", "seg": "d"},
      {"t": "2024-04-24T23:15:00Z", "v": 46.25, "series": "F1090", "seg": "d"},
      {"t": "2024-04-24T23:25:00Z", "v": 46.7, "series": "F1090", "seg": "d"},
      {"t": "2024-04-24T23:40:00Z", "v": 46.9, "series": "F1090", "seg": "d"}
    ]
  },
  "layer": [
    {
      "data": {"name": "obs"},
      "mark": {"type": "line", "strokeWidth": 1},
      "encoding": {
        "x": {"field": "t", "type": "temporal", "scale": {"type": "utc", "domain": [{"year": 2024, "month": 4, "date": 22, "utc": true}, {"year": 2024, "month": 4, "date": 25, "utc": true}]},
          "axis": {"orient": "bottom", "title": null, "tickSize": -4, "labelPadding": 12, "labelOverlap": false, "labelFlush": false, "labelBaseline": "top", "labelLineHeight": 15,
            "values": [
              {"year": 2024, "month": 4, "date": 22, "hours": 0, "utc": true},
              {"year": 2024, "month": 4, "date": 22, "hours": 2, "utc": true},
              {"year": 2024, "month": 4, "date": 22, "hours": 4, "utc": true},
              {"year": 2024, "month": 4, "date": 22, "hours": 6, "utc": true},
              {"year": 2024, "month": 4, "date": 22, "hours": 8, "utc": true},
              {"year": 2024, "month": 4, "date": 22, "hours": 10, "utc": true},
              {"year": 2024, "month": 4, "date": 22, "hours": 12, "utc": true},
              {"year": 2024, "month": 4, "date": 22, "hours": 14, "utc": true},
              {"year": 2024, "month": 4, "date": 22, "hours": 16, "utc": true},
              {"year": 2024, "month": 4, "date": 22, "hours": 18, "utc": true},
              {"year": 2024, "month": 4, "date": 22, "hours": 20, "utc": true},
              {"year": 2024, "month": 4, "date": 22, "hours": 22, "utc": true},
              {"year": 2024, "month": 4, "date": 23, "hours": 0, "utc": true},
              {"year": 2024, "month": 4, "date": 23, "hours": 2, "utc": true},
              {"year": 2024, "month": 4, "date": 23, "hours": 4, "utc": true},
              {"year": 2024, "month": 4, "date": 23, "hours": 6, "utc": true},
              {"year": 2024, "month": 4, "date": 23, "hours": 8, "utc": true},
              {"year": 2024, "month": 4, "date": 23, "hours": 10, "utc": true},
              {"year": 2024, "month": 4, "date": 23, "hours": 12, "utc": true},
              {"year": 2024, "month": 4, "date": 23, "hours": 14, "utc": true},
              {"year": 2024, "month": 4, "date": 23, "hours": 16, "utc": true},
              {"year": 2024, "month": 4, "date": 23, "hours": 18, "utc": true},
              {"year": 2024, "month": 4, "date": 23, "hours": 20, "utc": true},
              {"year": 2024, "month": 4, "date": 23, "hours": 22, "utc": true},
              {"year": 2024, "month": 4, "date": 24, "hours": 0, "utc": true},
              {"year": 2024, "month": 4, "date": 24, "hours": 2, "utc": true},
              {"year": 2024, "month": 4, "date": 24, "hours": 4, "utc": true},
              {"year": 2024, "month": 4, "date": 24, "hours": 6, "utc": true},
              {"year": 2024, "month": 4, "date": 24, "hours": 8, "utc": true},
              {"year": 2024, "month": 4, "date": 24, "hours": 10, "utc": true},
              {"year": 2024, "month": 4, "date": 24, "hours": 12, "utc": true},
              {"year": 2024, "month": 4, "date": 24, "hours": 14, "utc": true},
              {"year": 2024, "month": 4, "date": 24, "hours": 16, "utc": true},
              {"year": 2024, "month": 4, "date": 24, "hours": 18, "utc": true},
              {"year": 2024, "month": 4, "date": 24, "hours": 20, "utc": true},
              {"year": 2024, "month": 4, "date": 24, "hours": 22, "utc": true},
              {"year": 2024, "month": 4, "date": 25, "hours": 0, "utc": true}
            ],
            "labelExpr": "indexof(['00', '06', '12', '18'], utcFormat(datum.value, '%H')) >= 0 ? [utcFormat(datum.value, '%m/%d'), utcFormat(datum.value, '%H:%M')] : ''"}},
        "y": {"field": "v", "type": "quantitative", "scale": {"domain": [25, 50], "nice": false, "zero": false},
          "axis": {"orient": "left", "title": "degrees F", "values": [25, 30, 35, 40, 45, 50], "tickSize": -5, "labelPadding": 11, "titleX": -37, "titleY": 200, "titleAngle": 270, "titleAlign": "center", "titleBaseline": "middle"}},
        "color": {"field": "series", "type": "nominal",
          "scale": {"domain": ["F1090 Analysis", "F1090"], "range": ["#ff0000", "#0080ff"]},
          "legend": {"title": null, "orient": "none", "legendX": 534, "legendY": -5, "rowPadding": -17, "symbolType": "stroke", "symbolSize": 900, "symbolStrokeWidth": 1, "labelAlign": "right", "labelOffset": -37, "padding": 0}},
        "detail": {"field": "seg", "type": "nominal"}
      }
    },
    {
      "data": {"name": "events"},
      "mark": {"type": "rule", "color": "black", "strokeWidth": 1},
      "encoding": {
        "x": {"field": "t", "type": "temporal", "axis": {"orient": "top", "title": null, "labels": false, "domain": false, "tickSize": -4,
          "values": [
            {"year": 2024, "month": 4, "date": 22, "hours": 0, "utc": true},
            {"year": 2024, "month": 4, "date": 22, "hours": 2, "utc": true},
            {"year": 2024, "month": 4, "date": 22, "hours": 4, "utc": true},
            {"year": 2024, "month": 4, "date": 22, "hours": 6, "utc": true},
            {"year": 2024, "month": 4, "date": 22, "hours": 8, "utc": true},
            {"year": 2024, "month": 4, "date": 22, "hours": 10, "utc": true},
            {"year": 2024, "month": 4, "date": 22, "hours": 12, "utc": true},
            {"year": 2024, "month": 4, "date": 22, "hours": 14, "utc": true},
            {"year": 2024, "month": 4, "date": 22, "hours": 16, "utc": true},
            {"year": 2024, "month": 4, "date": 22, "hours": 18, "utc": true},
            {"year": 2024, "month": 4, "date": 22, "hours": 20, "utc": true},
            {"year": 2024, "month": 4, "date": 22, "hours": 22, "utc": true},
            {"year": 2024, "month": 4, "date": 23, "hours": 0, "utc": true},
            {"year": 2024, "month": 4, "date": 23, "hours": 2, "utc": true},
            {"year": 2024, "month": 4, "date": 23, "hours": 4, "utc": true},
            {"year": 2024, "month": 4, "date": 23, "hours": 6, "utc": true},
            {"year": 2024, "month": 4, "date": 23, "hours": 8, "utc": true},
            {"year": 2024, "month": 4, "date": 23, "hours": 10, "utc": true},
            {"year": 2024, "month": 4, "date": 23, "hours": 12, "utc": true},
            {"year": 2024, "month": 4, "date": 23, "hours": 14, "utc": true},
            {"year": 2024, "month": 4, "date": 23, "hours": 16, "utc": true},
            {"year": 2024, "month": 4, "date": 23, "hours": 18, "utc": true},
            {"year": 2024, "month": 4, "date": 23, "hours": 20, "utc": true},
            {"year": 2024, "month": 4, "date": 23, "hours": 22, "utc": true},
            {"year": 2024, "month": 4, "date": 24, "hours": 0, "utc": true},
            {"year": 2024, "month": 4, "date": 24, "hours": 2, "utc": true},
            {"year": 2024, "month": 4, "date": 24, "hours": 4, "utc": true},
            {"year": 2024, "month": 4, "date": 24, "hours": 6, "utc": true},
            {"year": 2024, "month": 4, "date": 24, "hours": 8, "utc": true},
            {"year": 2024, "month": 4, "date": 24, "hours": 10, "utc": true},
            {"year": 2024, "month": 4, "date": 24, "hours": 12, "utc": true},
            {"year": 2024, "month": 4, "date": 24, "hours": 14, "utc": true},
            {"year": 2024, "month": 4, "date": 24, "hours": 16, "utc": true},
            {"year": 2024, "month": 4, "date": 24, "hours": 18, "utc": true},
            {"year": 2024, "month": 4, "date": 24, "hours": 20, "utc": true},
            {"year": 2024, "month": 4, "date": 24, "hours": 22, "utc": true},
            {"year": 2024, "month": 4, "date": 25, "hours": 0, "utc": true}
          ]}},
        "y": {"datum": 25, "type": "quantitative", "axis": {"orient": "right", "title": null, "labels": false, "domain": false, "values": [25, 30, 35, 40, 45, 50], "tickSize": -5}},
        "y2": {"datum": 46.4}
      }
    },
    {
      "data": {"name": "events"},
      "mark": {"type": "text", "angle": 270, "align": "left", "baseline": "middle", "fontSize": 10, "font": "DejaVu Sans Mono", "color": "black"},
      "encoding": {
        "x": {"field": "t", "type": "temporal", "axis": null},
        "y": {"datum": 46.65, "type": "quantitative", "axis": null},
        "text": {"field": "event"}
      }
    }
  ],
  "resolve": {"axis": {"x": "independent", "y": "independent"}}
}
